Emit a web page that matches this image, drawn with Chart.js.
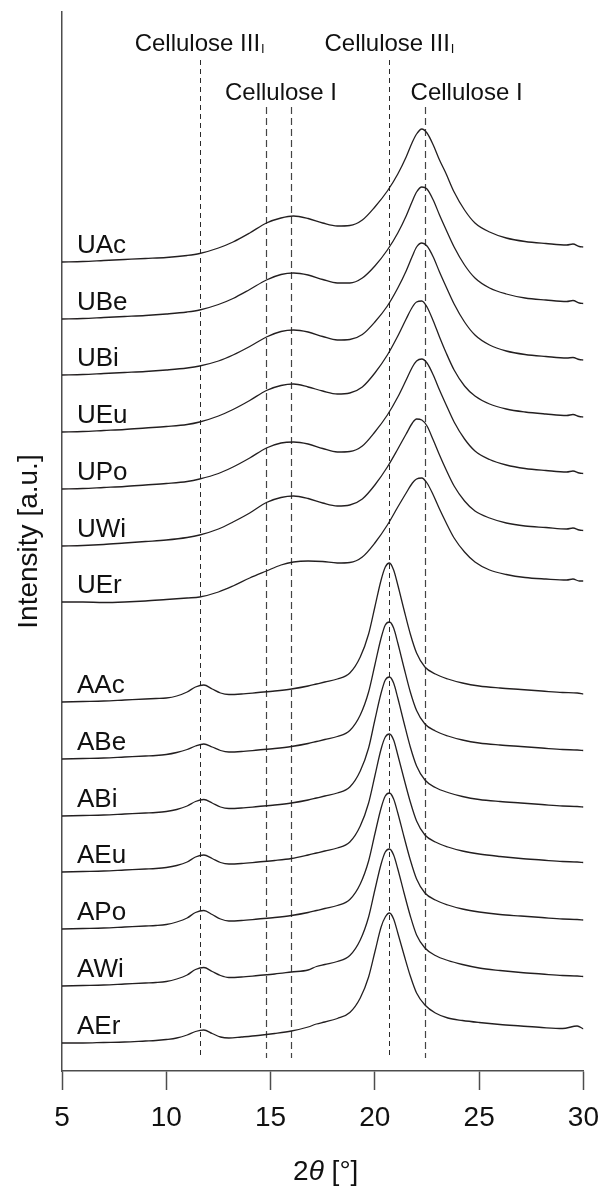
<!DOCTYPE html>
<html>
<head>
<meta charset="utf-8">
<script src="https://cdn.jsdelivr.net/npm/chart.js@4/dist/chart.umd.min.js"></script>
<style>
  html, body { margin: 0; padding: 0; background: #ffffff; }
  #wrap { width: 610px; height: 1186px; position: relative; }
  canvas { display: block; }
</style>
</head>
<body>
<div id="wrap"><canvas id="xrd" width="610" height="1186"></canvas></div>
<script>
// ---- XRD patterns (2θ in degrees, intensity in a.u. above each trace's own baseline) ----
const sampleNames = ['UAc', 'UBe', 'UBi', 'UEu', 'UPo', 'UWi', 'UEr',
                     'AAc', 'ABe', 'ABi', 'AEu', 'APo', 'AWi', 'AEr'];

// vertical stacking offset of each trace (a.u.)
const stackOffset = [809, 752, 696, 639, 582, 525, 469, 369, 312, 255, 199, 142, 85, 28];

// untreated samples (cellulose I)
const uTwoTheta = [5, 6, 7, 8, 9, 10, 11, 11.6, 12.5, 13.2, 14, 14.8, 15.5, 16.1, 16.8, 17.5, 18.2, 18.8,
                   19.4, 20, 20.6, 21.1, 21.5, 21.8, 22.0, 22.25, 22.5, 22.8, 23.1, 23.4, 23.8, 24.3,
                   24.8, 25.5, 26.3, 27.2, 28.2, 29.2, 29.5, 29.8, 30];
const intUAc = [0, 0.5, 1.5, 2.5, 3.5, 4.5, 6.5, 8.5, 14, 20, 29, 39, 44, 46, 43.5, 39, 36, 36.5, 42, 55,
                71, 88, 105, 120, 128, 133, 129, 117, 102, 89, 70, 52, 39, 30, 24, 20.5, 18.5, 17, 18, 15.5, 15];
const intUBe = [0, 0.5, 1.5, 2.5, 3.5, 5, 7, 9, 14.5, 20.5, 29.5, 39, 44.5, 46, 44, 39.5, 36, 36, 41, 53,
                69, 86, 103, 118, 127, 132, 130, 119, 104, 90, 72, 54, 41, 31, 25, 21, 19, 17.5, 18.5, 16, 15.5];
const intUBi = [0, 0.5, 1.5, 2.5, 3.5, 5, 7, 9, 14, 20, 28.5, 38, 43.5, 45, 43, 38.5, 35, 35.5, 40.5, 53,
                69, 87, 104, 119, 128, 132, 129, 118, 103, 89, 71, 53, 40, 30, 24, 20.5, 18.5, 17, 17.5, 15.5, 15];
const intUEu = [0, 0.5, 1.5, 2.5, 4, 5.5, 7.5, 10, 16, 22.5, 31.5, 41.5, 46.5, 48, 45, 41, 38, 39, 45, 59,
                77, 96, 113, 125, 130, 131, 125, 111, 95, 80, 62, 46, 36, 28, 23, 20, 18, 16.5, 17.5, 15.5, 15];
const intUPo = [0, 0.5, 1.5, 2.5, 4, 5.5, 7.5, 10, 15.5, 22, 31, 41, 46, 47, 45, 40.5, 37, 37.5, 43, 57,
                74, 92, 109, 122, 128, 130, 126, 114, 99, 85, 67, 50, 38, 29.5, 24, 20.5, 18.5, 17, 18, 16, 15.5];
const intUWi = [0, 0.5, 1.5, 3, 4.5, 6, 8.5, 11, 17, 24, 33, 43.5, 48.5, 50, 47.5, 43, 40, 41, 47, 61,
                79, 97, 112, 123, 127, 126, 120, 106, 91, 77, 60, 45, 35, 28, 23, 20, 18.5, 17, 18, 16, 15.5];
const intUEr = [0, 0, -0.5, 0, 1, 2.5, 4, 5, 10, 16, 24, 31, 37, 40, 41, 40.5, 39, 39.5, 45, 59,
                77, 95, 109, 119, 123, 124, 119, 107, 93, 80, 64, 50, 40, 32, 27.5, 24.5, 23, 22, 23, 21, 21];

// ammonia-treated samples (cellulose III_I)
const aTwoTheta = [5, 6, 7, 8, 9, 9.5, 10, 10.5, 11, 11.4, 11.8, 12.2, 12.6, 13, 13.6, 14.4, 15.2, 16,
                   16.8, 17.2, 17.6, 18.2, 18.8, 19.3, 19.7, 20, 20.3, 20.5, 20.7, 20.9, 21.1, 21.4, 21.7,
                   22, 22.4, 22.9, 23.5, 24.2, 25, 26, 27, 28, 29, 29.7, 30];
const intAAc = [0, 0.5, 1, 2, 3, 3.5, 4, 6, 10, 15, 17, 13, 9, 7.5, 8, 9.5, 11, 13, 16, 18, 20, 23, 29,
                45, 68, 95, 122, 135, 139, 132, 117, 92, 68, 49, 35, 28, 23, 19, 16, 14, 12.5, 11, 9.5, 9, 8];
const intABe = [0, 0.5, 1, 2, 3, 3.5, 4.5, 6.5, 9.5, 13, 15, 12, 8.5, 7, 7.5, 9, 10.5, 12.5, 15.5, 17.5,
                19.5, 22.5, 28.5, 44, 67, 94, 121, 134, 137, 131, 116, 91, 67, 48.5, 35, 28, 23, 19, 16, 14,
                12.5, 11, 9.5, 9, 8.5];
const intABi = [0, 0.5, 1, 2, 3, 3.5, 4.5, 6.5, 10, 14.5, 16.5, 13, 9, 7.5, 8, 9.5, 11, 13, 16, 18, 20, 23,
                29, 45, 68, 96, 123, 136, 139, 133, 118, 93, 69, 50, 36, 28.5, 23.5, 19.5, 16.5, 14.5, 13,
                11.5, 10, 9.5, 9];
const intAEu = [0, 0.5, 1, 2, 3, 3.5, 4.5, 6.5, 10, 15, 17, 13.5, 9.5, 8, 8.5, 10, 11.5, 13.5, 17, 19, 21,
                24, 30, 46, 69, 96, 123, 135, 138, 132, 117, 93, 70, 51, 37, 30, 25, 21, 18, 15.5, 13.5, 12,
                10.5, 10, 9.5];
const intAPo = [0, 0.5, 1, 2, 3, 3.5, 4.5, 7, 11, 16.5, 18.5, 14.5, 10, 8, 8.5, 10, 11.5, 13.5, 16.5, 18.5,
                20.5, 23.5, 29.5, 45, 68, 95, 121, 133, 136, 130, 116, 92, 69, 50, 36, 29, 24, 20, 17, 14.5,
                13, 11.5, 10, 9.5, 9];
const intAWi = [0, 0.5, 1, 2, 3, 3.5, 4.5, 7, 11, 16.5, 18.5, 14.5, 10.5, 8.5, 9, 10.5, 12, 14, 16, 19.5,
                21.5, 24.5, 30.5, 46, 69, 96, 122, 134, 137, 131, 117, 93, 70, 51, 38, 30.5, 25.5, 21.5, 18,
                15.5, 13.5, 12, 10.5, 10, 9.5];
const intAEr = [0, 0, 0.5, 1, 2, 2.5, 3.5, 5, 8, 11.5, 13, 9.5, 6, 5, 6, 7.5, 9.5, 12, 16, 19, 21, 24.5,
                30.5, 45, 66, 91, 116, 126, 130, 124, 110, 88, 67, 50, 38, 30, 25, 22.5, 20.5, 18.5, 17,
                15.5, 14.5, 17, 14];

const traceValues = [intUAc, intUBe, intUBi, intUEu, intUPo, intUWi, intUEr,
                     intAAc, intABe, intABi, intAEu, intAPo, intAWi, intAEr];

// reference reflections (2θ) and the polymorph each belongs to
const peakPositions = [11.6, 14.8, 16.0, 20.7, 22.4];
const peakPhases    = ['III', 'I', 'I', 'III', 'I'];

// phase captions: centre (2θ) and polymorph
const captionCentres = [11.6, 15.5, 20.7, 24.4];
const captionPhases  = ['III', 'I', 'III', 'I'];

const INK = '#231f20';
const AXIS = '#4d4d4d';
const FONT = "'Liberation Sans', Arial, Helvetica, sans-serif";

const datasets = sampleNames.map((name, i) => {
  const grid = i < 7 ? uTwoTheta : aTwoTheta;
  const vals = traceValues[i];
  return {
    label: name,
    data: grid.map((t, k) => ({ x: t, y: vals[k] + stackOffset[i] })),
    borderColor: INK,
    borderWidth: 1.3,
    pointRadius: 0,
    fill: false,
    cubicInterpolationMode: 'monotone'
  };
});

const xrdOverlay = {
  id: 'xrdOverlay',
  beforeDatasetsDraw(chart) {
    const { ctx, chartArea, scales: { x } } = chart;
    ctx.save();
    peakPositions.forEach((pos, i) => {
      const px = Math.round(x.getPixelForValue(pos)) + 0.5;
      const isIII = peakPhases[i] === 'III';
      ctx.beginPath();
      ctx.setLineDash(isIII ? [5, 4] : [7, 4]);
      ctx.lineWidth = isIII ? 1 : 1.2;
      ctx.strokeStyle = isIII ? '#2a2a2a' : '#444444';
      ctx.moveTo(px, chartArea.top + (isIII ? 48 : 95));
      ctx.lineTo(px, chartArea.bottom - 13);
      ctx.stroke();
    });
    ctx.restore();
  },
  afterDraw(chart) {
    const { ctx, chartArea, scales: { x, y } } = chart;
    ctx.save();
    ctx.fillStyle = '#111111';
    ctx.textBaseline = 'alphabetic';

    // phase captions
    captionCentres.forEach((pos, i) => {
      const cx = x.getPixelForValue(pos);
      const isIII = captionPhases[i] === 'III';
      const base = chartArea.top + (isIII ? 39 : 88);
      ctx.font = `24px ${FONT}`;
      const main = isIII ? 'Cellulose III' : 'Cellulose I';
      const wMain = ctx.measureText(main).width;
      let wSub = 0;
      if (isIII) {
        ctx.font = `13px ${FONT}`;
        wSub = ctx.measureText('I').width + 1;
      }
      const start = cx - (wMain + wSub) / 2;
      ctx.font = `24px ${FONT}`;
      ctx.textAlign = 'left';
      ctx.fillText(main, start, base);
      if (isIII) {
        ctx.font = `13px ${FONT}`;
        ctx.fillText('I', start + wMain + 1, base + 2);
      }
    });

    // sample names beside each trace
    ctx.font = `26px ${FONT}`;
    ctx.textAlign = 'left';
    sampleNames.forEach((name, i) => {
      ctx.fillText(name, chartArea.left + 15, y.getPixelForValue(stackOffset[i]) - 9);
    });

    // x-axis title: 2θ [°]
    const parts = [['2', ''], ['θ', 'italic '], [' [°]', '']];
    let total = 0;
    parts.forEach(p => { ctx.font = `${p[1]}28px ${FONT}`; total += ctx.measureText(p[0]).width; });
    let tx = (chartArea.left + chartArea.right) / 2 + 3 - total / 2;
    parts.forEach(p => {
      ctx.font = `${p[1]}28px ${FONT}`;
      ctx.fillText(p[0], tx, 1180);
      tx += ctx.measureText(p[0]).width;
    });

    // y-axis title
    ctx.translate(37, (chartArea.top + chartArea.bottom) / 2);
    ctx.rotate(-Math.PI / 2);
    ctx.font = `28px ${FONT}`;
    ctx.textAlign = 'center';
    ctx.fillText('Intensity [a.u.]', 0, 0);
    ctx.restore();
  }
};

new Chart(document.getElementById('xrd'), {
  type: 'line',
  data: { datasets },
  plugins: [xrdOverlay],
  options: {
    responsive: false,
    animation: false,
    devicePixelRatio: 1,
    layout: { padding: { top: 12, right: 19, left: 0, bottom: 0 } },
    plugins: { legend: { display: false }, tooltip: { enabled: false } },
    scales: {
      x: {
        type: 'linear',
        min: 5, max: 30,
        ticks: {
          stepSize: 5,
          maxRotation: 0,
          padding: 11,
          color: '#111111',
          font: { family: FONT, size: 28 }
        },
        grid: { drawOnChartArea: false, drawTicks: true, tickLength: 19, tickColor: AXIS, tickWidth: 1.5 },
        border: { display: true, color: AXIS, width: 1.5 },
        afterFit(scale) { scale.height = 115; }
      },
      y: {
        type: 'linear',
        min: 0, max: 1059,
        ticks: { display: false },
        grid: { display: false },
        border: { display: true, color: AXIS, width: 1.5 },
        afterFit(scale) { scale.width = 62; }
      }
    }
  }
});
</script>
</body>
</html>
